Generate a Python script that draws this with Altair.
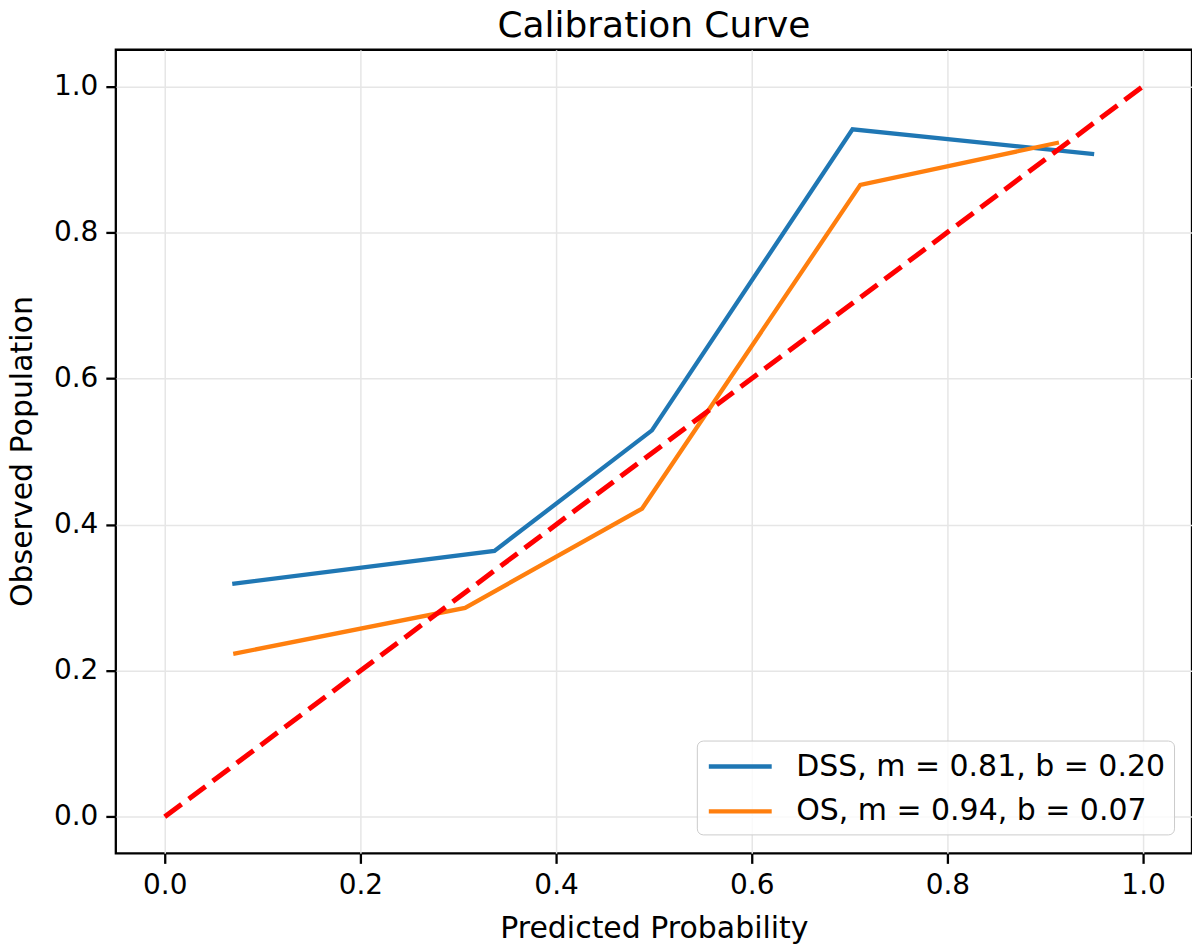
import altair as alt
import pandas as pd

# Series values
dss_x = [0.069, 0.337, 0.498, 0.703, 0.950]
dss_y = [0.319, 0.364, 0.529, 0.941, 0.907]
os_x = [0.070, 0.307, 0.488, 0.711, 0.914]
os_y = [0.223, 0.286, 0.422, 0.865, 0.923]
diag_x = [0.0, 1.0]
diag_y = [0.0, 1.0]

series_labels = ["DSS, m = 0.81, b = 0.20", "OS, m = 0.94, b = 0.07"]
series_colors = ["#1f77b4", "#ff7f0e"]
tick_values = [0.0, 0.2, 0.4, 0.6, 0.8, 1.0]

rows = []
for i, (xs, ys) in enumerate([(dss_x, dss_y), (os_x, os_y)]):
    for k, (a, b) in enumerate(zip(xs, ys)):
        rows.append({"series": series_labels[i], "x": a, "y": b, "order": k})
df = pd.DataFrame(rows)
diag = pd.DataFrame({"x": diag_x, "y": diag_y})

FONT = "DejaVu Sans"
xscale = alt.Scale(domain=[-0.05, 1.05], nice=False, zero=False)
yscale = alt.Scale(domain=[-0.05, 1.05], nice=False, zero=False)

xaxis = alt.Axis(values=tick_values, format=".1f", title="Predicted Probability",
                 titleX=539, titleY=84, titleBaseline="alphabetic", titleAlign="center")
yaxis = alt.Axis(values=tick_values, format=".1f", title="Observed Population",
                 titleAngle=270, titleX=-84, titleY=402, titleBaseline="alphabetic",
                 titleAlign="center")

lines = alt.Chart(df).mark_line(strokeWidth=4.3).encode(
    x=alt.X("x:Q", scale=xscale, axis=xaxis),
    y=alt.Y("y:Q", scale=yscale, axis=yaxis),
    order="order:Q",
    color=alt.Color("series:N",
                    scale=alt.Scale(domain=series_labels, range=series_colors),
                    legend=alt.Legend(orient="none", legendX=582, legendY=692, title=None,
                                      symbolType="M-2,0H2", symbolSize=992,
                                      symbolStrokeWidth=4.3, symbolOffset=17.5,
                                      labelOffset=38, labelFontSize=30, labelFont=FONT,
                                      labelColor="black", labelLimit=800,
                                      padding=8, rowPadding=12,
                                      fillColor="rgba(255,255,255,0.8)",
                                      strokeColor="#cccccc", cornerRadius=6)),
)

diag_line = alt.Chart(diag).mark_line(color="red", strokeWidth=5, strokeDash=[21, 9]).encode(
    x=alt.X("x:Q", scale=xscale),
    y=alt.Y("y:Q", scale=yscale),
)

chart = alt.layer(lines, diag_line).properties(
    width=1078,
    height=805,
    title=alt.TitleParams("Calibration Curve", fontSize=36, font=FONT, fontWeight="normal",
                          color="black", anchor="middle", frame="group",
                          baseline="alphabetic", offset=17, dy=40),
    autosize=alt.AutoSizeParams(type="none"),
    padding={"left": 108, "top": 41, "right": 0, "bottom": 100},
).configure_view(
    stroke="black", strokeWidth=2.3
).configure_axis(
    domain=False,
    grid=True, gridColor="#e6e6e6", gridWidth=1.5,
    ticks=True, tickColor="black", tickWidth=2.3, tickSize=10,
    labelFont=FONT, labelFontSize=28, labelColor="black", labelPadding=8,
    titleFont=FONT, titleFontSize=30, titleFontWeight="normal", titleColor="black",
)

chart.save("out.html", embed_options={"renderer": "svg", "actions": False})
